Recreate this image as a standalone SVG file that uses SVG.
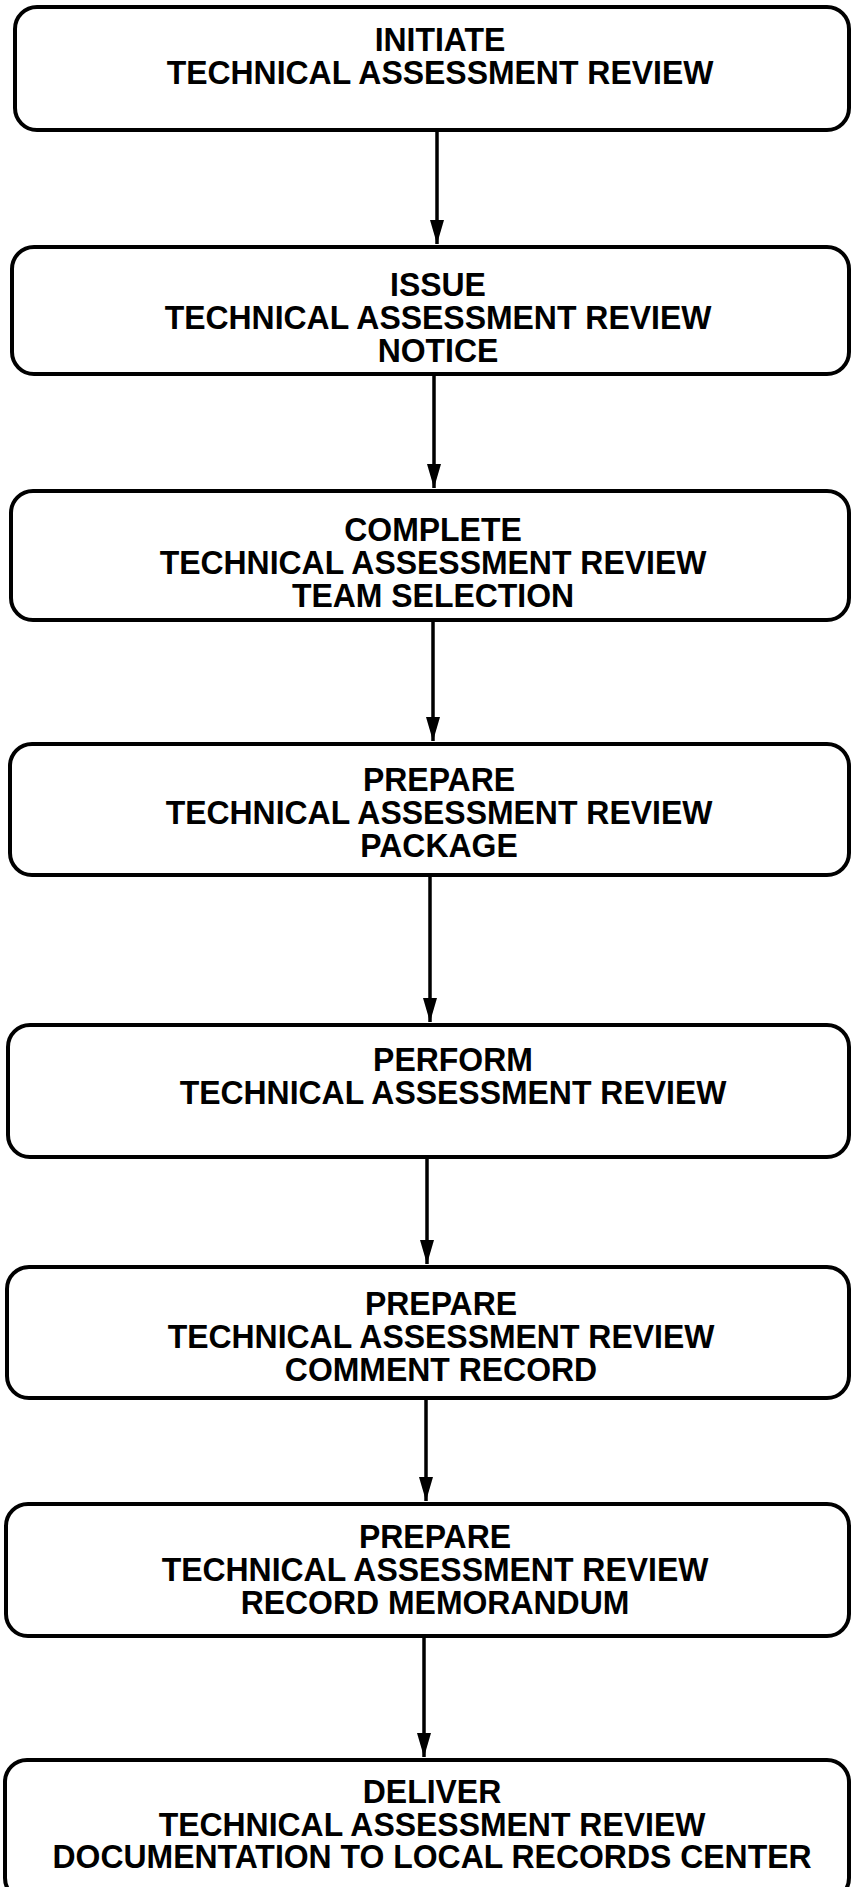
<svg xmlns="http://www.w3.org/2000/svg" width="853" height="1887" viewBox="0 0 853 1887">
<style>
.box{fill:#fff;stroke:#000;stroke-width:4}
.lbl{font-family:"Liberation Sans",Arial,sans-serif;font-weight:bold;font-size:34px;text-anchor:middle;fill:#000}
.conn{stroke:#000;stroke-width:3.5;fill:none}
</style>
<defs>
<marker id="ah" viewBox="0 0 24 14" refX="24" refY="7" markerWidth="24" markerHeight="14" markerUnits="userSpaceOnUse" orient="auto">
<path d="M0,0 L24,7 L0,14 z" fill="#000"/>
</marker>
</defs>
<rect width="853" height="1887" fill="#fff"/>
<g id="connectors">
<line class="conn" x1="437" y1="130" x2="437" y2="244" marker-end="url(#ah)"/>
<line class="conn" x1="434" y1="375" x2="434" y2="488" marker-end="url(#ah)"/>
<line class="conn" x1="433" y1="620" x2="433" y2="741" marker-end="url(#ah)"/>
<line class="conn" x1="430" y1="875" x2="430" y2="1022" marker-end="url(#ah)"/>
<line class="conn" x1="427" y1="1157" x2="427" y2="1264" marker-end="url(#ah)"/>
<line class="conn" x1="426" y1="1398" x2="426" y2="1501" marker-end="url(#ah)"/>
<line class="conn" x1="424" y1="1636" x2="424" y2="1757" marker-end="url(#ah)"/>
</g>
<g id="n1">
<rect class="box" x="15" y="7" width="834" height="123" rx="22"/>
<g transform="translate(440,0) scale(0.94,1)"><text class="lbl" x="0" y="51">INITIATE</text><text class="lbl" x="0" y="84">TECHNICAL ASSESSMENT REVIEW</text></g>
</g>
<g id="n2">
<rect class="box" x="12" y="247" width="837" height="127" rx="22"/>
<g transform="translate(438,0) scale(0.94,1)"><text class="lbl" x="0" y="296">ISSUE</text><text class="lbl" x="0" y="329">TECHNICAL ASSESSMENT REVIEW</text><text class="lbl" x="0" y="362">NOTICE</text></g>
</g>
<g id="n3">
<rect class="box" x="11" y="491" width="838" height="129" rx="22"/>
<g transform="translate(433,0) scale(0.94,1)"><text class="lbl" x="0" y="541">COMPLETE</text><text class="lbl" x="0" y="574">TECHNICAL ASSESSMENT REVIEW</text><text class="lbl" x="0" y="607">TEAM SELECTION</text></g>
</g>
<g id="n4">
<rect class="box" x="10" y="744" width="839" height="131" rx="22"/>
<g transform="translate(439,0) scale(0.94,1)"><text class="lbl" x="0" y="791">PREPARE</text><text class="lbl" x="0" y="824">TECHNICAL ASSESSMENT REVIEW</text><text class="lbl" x="0" y="857">PACKAGE</text></g>
</g>
<g id="n5">
<rect class="box" x="8" y="1025" width="841" height="132" rx="22"/>
<g transform="translate(453,0) scale(0.94,1)"><text class="lbl" x="0" y="1071">PERFORM</text><text class="lbl" x="0" y="1104">TECHNICAL ASSESSMENT REVIEW</text></g>
</g>
<g id="n6">
<rect class="box" x="7" y="1267" width="842" height="131" rx="22"/>
<g transform="translate(441,0) scale(0.94,1)"><text class="lbl" x="0" y="1315">PREPARE</text><text class="lbl" x="0" y="1348">TECHNICAL ASSESSMENT REVIEW</text><text class="lbl" x="0" y="1381">COMMENT RECORD</text></g>
</g>
<g id="n7">
<rect class="box" x="6" y="1504" width="843" height="132" rx="22"/>
<g transform="translate(435,0) scale(0.94,1)"><text class="lbl" x="0" y="1548">PREPARE</text><text class="lbl" x="0" y="1581">TECHNICAL ASSESSMENT REVIEW</text><text class="lbl" x="0" y="1614">RECORD MEMORANDUM</text></g>
</g>
<g id="n8">
<rect class="box" x="5" y="1760" width="844" height="140" rx="22"/>
<g transform="translate(432,0) scale(0.94,1)"><text class="lbl" x="0" y="1803">DELIVER</text><text class="lbl" x="0" y="1836">TECHNICAL ASSESSMENT REVIEW</text><text class="lbl" x="0" y="1868">DOCUMENTATION TO LOCAL RECORDS CENTER</text></g>
</g>
</svg>
